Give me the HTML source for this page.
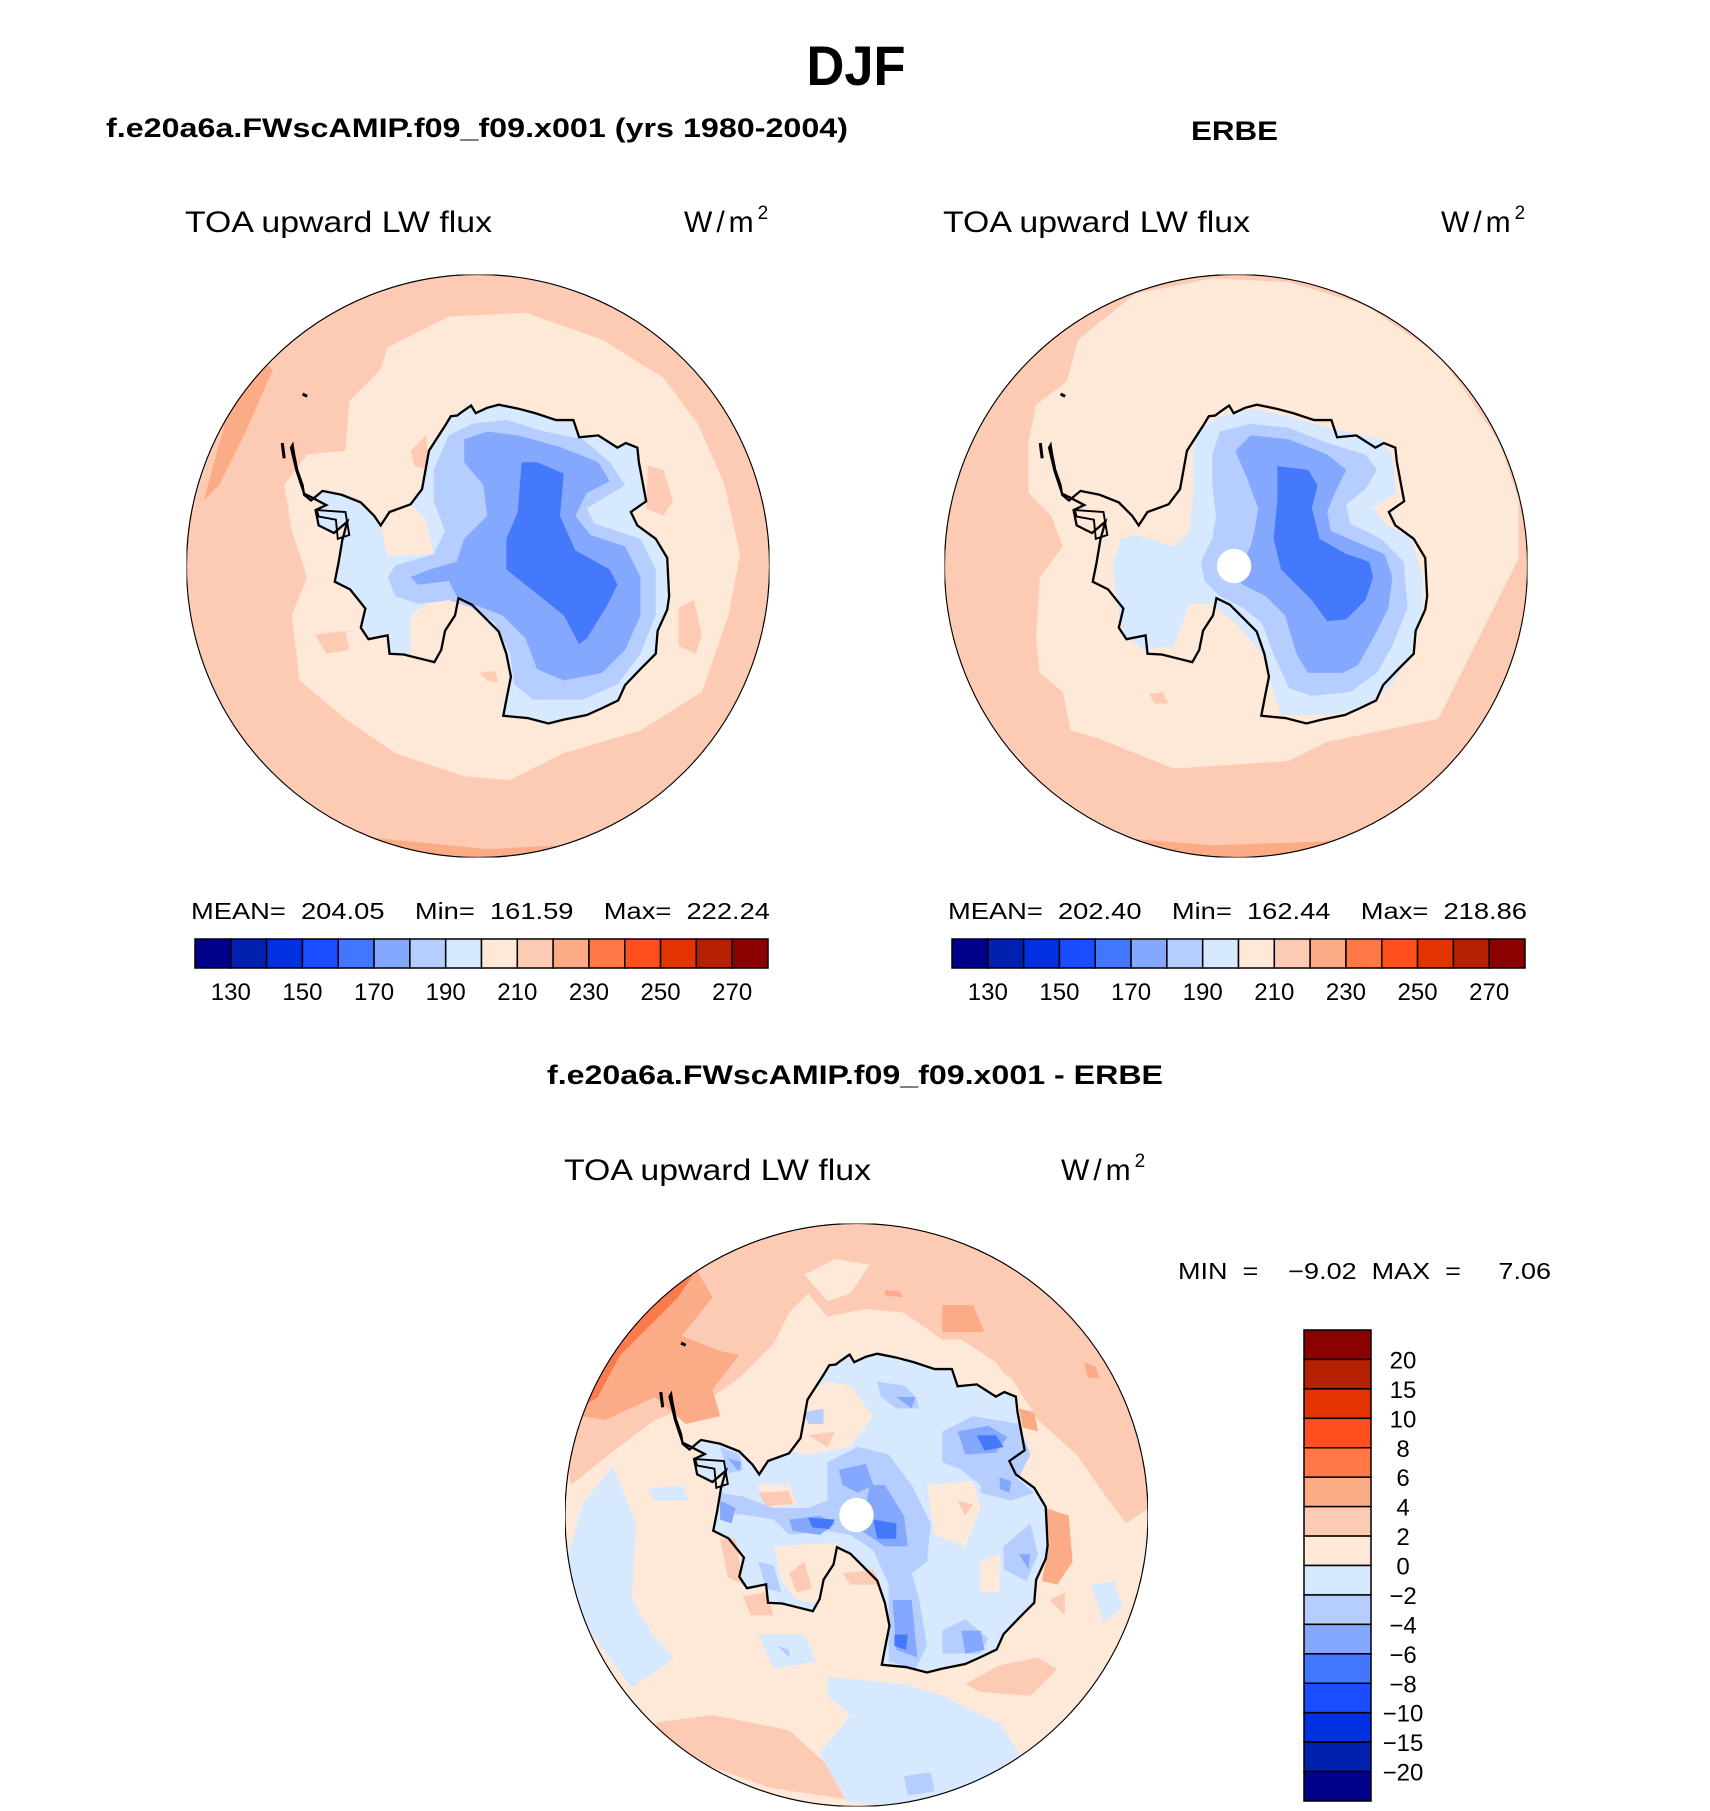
<!DOCTYPE html>
<html><head><meta charset="utf-8"><title>DJF TOA upward LW flux</title>
<style>html,body{margin:0;padding:0;background:#fff}svg{display:block}
.t{font-family:"Liberation Sans",sans-serif;fill:#000}
.b{font-weight:bold}
.u{letter-spacing:4px}</style></head>
<body>
<svg id="fig" width="1710" height="1811" viewBox="0 0 1710 1811" xmlns="http://www.w3.org/2000/svg">
<defs>
<clipPath id="cc"><circle cx="776" cy="771" r="761"/></clipPath>
<path id="coast" d="M292,455 L296,480 L304,520 L318,560 L322,585 L340,600 L370,575 L420,585 L470,605 L505,640 L522,665 L545,630 L600,610 L630,570 L648,470 L690,405 L705,380 L722,378 L735,368 L758,352 L770,372 L800,358 L830,350 L880,360 L925,372 L980,390 L1025,390 L1040,435 L1090,430 L1140,462 L1162,450 L1192,462 L1196,500 L1215,602 L1175,630 L1192,665 L1240,700 L1270,750 L1275,850 L1270,885 L1245,940 L1240,1000 L1200,1040 L1160,1082 L1142,1122 L1100,1142 L1060,1160 L1000,1172 L960,1182 L905,1168 L842,1162 L852,1110 L862,1060 L850,1000 L830,942 L790,902 L760,872 L725,855 L716,900 L690,940 L680,990 L662,1022 L622,1012 L582,1002 L545,1000 L540,952 L490,962 L470,932 L482,882 L442,832 L402,812 L412,762 L422,702 L435,655 L400,685 L360,665 L352,625 L380,612 L342,592 L322,582 L302,522 L288,462 Z"/>
</defs>
<rect width="1710" height="1811" fill="#fff"/>

<text class="t b" x="856" y="85" font-size="56" text-anchor="middle" textLength="99" lengthAdjust="spacingAndGlyphs">DJF</text>
<text class="t b" x="106" y="137" font-size="27" textLength="742" lengthAdjust="spacingAndGlyphs">f.e20a6a.FWscAMIP.f09_f09.x001 (yrs 1980-2004)</text>
<text class="t b" x="1191" y="140" font-size="27" textLength="87" lengthAdjust="spacingAndGlyphs">ERBE</text>
<text class="t b" x="547" y="1084" font-size="27" textLength="616" lengthAdjust="spacingAndGlyphs">f.e20a6a.FWscAMIP.f09_f09.x001 - ERBE</text>

<text class="t" x="185" y="232" font-size="30" textLength="307" lengthAdjust="spacingAndGlyphs">TOA upward LW flux</text>
<text class="t u" x="684" y="232" font-size="30">W/m<tspan font-size="19" dy="-13">2</tspan></text>
<text class="t" x="943" y="232" font-size="30" textLength="307" lengthAdjust="spacingAndGlyphs">TOA upward LW flux</text>
<text class="t u" x="1441" y="232" font-size="30">W/m<tspan font-size="19" dy="-13">2</tspan></text>
<text class="t" x="564" y="1180" font-size="30" textLength="307" lengthAdjust="spacingAndGlyphs">TOA upward LW flux</text>
<text class="t u" x="1061" y="1180" font-size="30">W/m<tspan font-size="19" dy="-13">2</tspan></text>

<!-- MAP 1 -->
<svg x="186.5" y="274.5" width="583" height="583" viewBox="15 10 1522 1522">
<g clip-path="url(#cc)">
<rect x="0" y="0" width="1600" height="1600" fill="#fdcbb3"/>
<path fill="#fcab87" d="M60,600 L120,380 L220,240 L240,260 L170,420 L100,560 Z"/>
<path fill="#fcab87" d="M300,1400 L500,1480 L800,1510 L1000,1500 L1150,1460 L1100,1560 L300,1560 Z"/>
<path fill="#fee8d8" d="M540,200 L700,120 L900,110 L1100,180 L1260,280 L1350,400 L1420,560 L1460,740 L1430,900 L1360,1100 L1200,1200 L1100,1230 L1000,1260 L860,1330 L740,1320 L560,1260 L430,1170 L310,1070 L290,900 L330,800 L290,680 L270,560 L330,480 L430,470 L440,340 L520,260 Z"/>
<path fill="#fdcbb3" d="M1220,510 L1260,520 L1285,600 L1260,640 L1215,620 Z M1300,880 L1340,860 L1360,950 L1345,1000 L1300,980 Z M600,470 L640,430 L650,520 L610,510 Z M350,950 L430,940 L440,990 L380,1000 Z M780,1050 L820,1045 L830,1075 L800,1070 Z"/>
<use href="#coast" fill="#d6e9ff"/>
<path fill="#fee8d8" d="M725,855 L716,900 L690,940 L680,990 L662,1022 L600,1010 L600,900 L640,870 Z M522,665 L545,630 L600,610 L640,650 L660,740 L540,745 Z"/>
<path fill="#b5cdff" d="M660,520 L700,430 L760,400 L850,390 L950,420 L1050,440 L1120,500 L1160,560 L1110,590 L1060,620 L1080,660 L1200,700 L1240,780 L1240,900 L1200,1000 L1140,1080 L1050,1120 L920,1120 L870,1080 L860,1000 L820,920 L760,880 L700,860 L620,870 L560,850 L540,800 L560,770 L660,740 L690,680 L660,600 Z"/>
<path fill="#85a8ff" d="M740,440 L800,420 L880,430 L990,460 L1090,500 L1120,550 L1060,580 L1030,640 L1070,690 L1160,720 L1200,800 L1200,900 L1160,990 L1100,1050 L1000,1070 L930,1040 L900,960 L840,900 L760,870 L720,850 L700,810 L620,820 L600,800 L650,780 L720,760 L740,700 L800,640 L790,560 L740,500 Z"/>
<path fill="#4479fb" d="M890,500 L930,500 L1000,530 L990,640 L1030,730 L1120,780 L1140,820 L1110,880 L1060,960 L1040,975 L1000,900 L850,780 L850,700 L880,630 Z"/>
</g>
<use href="#coast" fill="none" stroke="#000" stroke-width="6"/>
<path d="M355,625 L430,630 L440,690 L410,700 L405,650 L360,642 Z" fill="none" stroke="#000" stroke-width="5"/>
<path d="M265,450 L270,490 M318,322 L330,328" stroke="#000" stroke-width="8"/>
<circle cx="776" cy="771" r="761" fill="none" stroke="#000" stroke-width="3"/>
</svg>

<!-- MAP 2 -->
<svg x="944.5" y="274.5" width="583" height="583" viewBox="15 10 1522 1522">
<g clip-path="url(#cc)">
<rect x="0" y="0" width="1600" height="1600" fill="#fdcbb3"/>
<g transform="translate(14,0)">
<path fill="#fcab87" d="M450,1480 L700,1500 L1000,1490 L1100,1470 L1150,1560 L400,1560 Z"/>
<path fill="#fee8d8" d="M350,180 L500,60 L700,20 L900,30 L1100,90 L1290,220 L1350,300 L1450,450 L1500,600 L1500,750 L1450,850 L1400,950 L1350,1050 L1290,1170 L1100,1210 L1000,1230 L900,1280 L750,1290 L600,1300 L500,1260 L400,1220 L330,1200 L310,1100 L250,1050 L240,960 L250,800 L310,720 L280,640 L220,580 L220,450 L240,350 L320,290 Z"/>
<path fill="#fdcbb3" d="M535,1105 L570,1100 L585,1130 L550,1130 Z"/>
<path fill="#d6e9ff" d="M660,420 L720,380 L800,360 L900,380 L1000,410 L1140,440 L1170,480 L1180,580 L1120,620 L1150,660 L1220,700 L1250,800 L1250,900 L1220,1000 L1170,1080 L1100,1140 L1000,1160 L880,1160 L860,1100 L830,1000 L760,920 L700,870 L640,870 L600,980 L520,990 L470,950 L450,860 L440,770 L460,700 L500,690 L600,720 L640,680 L650,580 L650,480 Z"/>
<path fill="#b5cdff" d="M700,480 L720,420 L800,400 L900,410 L1000,450 L1100,480 L1130,520 L1100,570 L1050,610 L1060,660 L1140,700 L1200,760 L1210,880 L1170,980 L1130,1050 L1060,1100 L960,1110 L900,1090 L860,1000 L830,920 L780,880 L720,850 L680,810 L670,760 L700,700 L710,640 L700,560 Z"/>
<path fill="#85a8ff" d="M760,470 L800,430 L900,440 L1000,480 L1050,520 L1020,580 L1000,630 L1010,680 L1080,710 L1150,740 L1170,800 L1160,880 L1120,960 L1080,1030 L1040,1050 L950,1050 L920,1000 L890,900 L840,850 L780,820 L760,800 L800,720 L810,680 L820,620 L790,540 Z"/>
<path fill="#4479fb" d="M870,510 L950,520 L975,560 L960,620 L980,700 L1050,740 L1110,760 L1120,800 L1100,860 L1050,910 L1000,915 L960,860 L880,780 L860,700 L870,600 Z"/>
</g>
<circle cx="771" cy="771" r="45" fill="#fff"/>
</g>
<use href="#coast" fill="none" stroke="#000" stroke-width="6"/>
<path d="M355,625 L430,630 L440,690 L410,700 L405,650 L360,642 Z" fill="none" stroke="#000" stroke-width="5"/>
<path d="M265,450 L270,490 M318,322 L330,328" stroke="#000" stroke-width="8"/>
<circle cx="776" cy="771" r="761" fill="none" stroke="#000" stroke-width="3"/>
</svg>

<!-- MAP 3 -->
<svg x="565" y="1223.5" width="583" height="583" viewBox="15 10 1522 1522">
<g clip-path="url(#cc)">
<rect x="0" y="0" width="1600" height="1600" fill="#fee8d8"/>
<g transform="translate(0,-7)">
<path fill="#fdcbb3" d="M20,640 L100,350 L250,180 L450,70 L700,20 L900,20 L1100,80 L1300,200 L1450,400 L1530,600 L1540,760 L1480,800 L1420,720 L1350,620 L1250,530 L1180,420 L1000,320 L900,250 L800,240 L700,260 L650,200 L600,250 L560,330 L470,420 L400,470 L250,530 L130,620 L30,700 Z"/>
<path fill="#fee8d8" d="M640,150 L720,110 L810,125 L760,200 L700,220 Z M930,320 L1050,320 L1140,380 L1200,460 L1100,440 L1000,420 L950,380 Z"/>
<path fill="#fcab87" d="M60,520 L120,340 L250,200 L360,140 L400,210 L320,310 L420,350 L470,360 L400,450 L420,520 L330,540 L250,470 L120,530 Z M1000,230 L1080,230 L1110,300 L1000,300 Z M850,190 L890,195 L895,210 L850,205 Z M1370,380 L1400,390 L1410,420 L1380,420 Z M1270,760 L1330,780 L1340,900 L1300,960 L1260,950 L1280,850 Z M1200,500 L1240,510 L1250,560 L1210,550 Z"/>
<path fill="#fd7a4e" d="M70,490 L130,350 L200,260 L300,180 L350,150 L310,210 L160,360 L100,470 Z"/>
<path fill="#fdcbb3" d="M250,1320 L400,1300 L600,1340 L700,1430 L750,1520 L550,1490 L380,1430 L270,1380 Z M1060,1220 L1150,1170 L1250,1150 L1300,1180 L1230,1250 L1100,1240 Z M1280,1000 L1320,980 L1320,1040 Z"/>
<path fill="#d6e9ff" d="M20,900 L60,750 L140,650 L200,800 L190,1000 L250,1100 L300,1150 L190,1230 L130,1150 L60,1050 Z M700,1200 L900,1220 L1000,1250 L1060,1280 L1150,1320 L1200,1400 L1250,1460 L1100,1500 L900,1545 L750,1525 L680,1400 L760,1300 L700,1250 Z M230,710 L320,700 L340,740 L250,740 Z M1390,960 L1450,950 L1470,1020 L1420,1060 Z M520,1090 L640,1090 L670,1160 L560,1180 Z"/>
<path fill="#b5cdff" d="M900,1460 L970,1450 L980,1500 L910,1510 Z"/>
<use href="#coast" fill="#d6e9ff" transform="translate(0,7)"/>
<path fill="#fee8d8" d="M630,470 L700,430 L760,440 L820,520 L760,600 L650,620 L560,600 L620,540 Z M560,860 L720,850 L760,880 L840,950 L850,1060 L780,1010 L700,1010 L620,1000 L580,950 Z M960,700 L1080,690 L1100,760 L1060,860 L980,830 Z M1100,900 L1150,880 L1150,980 L1100,980 Z M520,700 L600,700 L620,750 L540,760 Z"/>
<path fill="#fdcbb3" d="M520,720 L600,715 L610,750 L540,755 Z M650,570 L720,560 L700,600 Z M600,930 L640,900 L660,970 L620,980 Z M740,930 L820,920 L840,960 L760,960 Z M1040,740 L1080,750 L1060,780 Z M420,840 L460,840 L480,960 L440,940 Z M480,990 L540,980 L560,1040 L500,1040 Z"/>
<path fill="#b5cdff" d="M700,640 L780,600 L860,620 L920,700 L970,800 L960,900 L920,930 L940,1000 L960,1120 L930,1180 L860,1160 L860,1050 L860,960 L820,870 L760,830 L700,820 L600,830 L560,790 L500,780 L420,770 L420,720 L480,730 L560,760 L650,760 L700,740 L700,690 Z M1000,560 L1080,520 L1200,540 L1230,620 L1200,680 L1100,700 L1050,660 L1000,640 Z M1100,680 L1180,670 L1240,720 L1180,740 L1100,720 Z M1160,860 L1230,800 L1250,880 L1220,950 L1160,920 Z M1000,1080 L1060,1050 L1120,1100 L1100,1140 L1000,1140 Z M830,430 L900,440 L930,470 L940,500 L880,500 L840,470 Z M640,510 L690,500 L690,540 L650,540 Z M420,600 L470,620 L480,660 L440,670 Z M520,900 L560,910 L580,980 L540,970 Z M570,1120 L600,1130 L600,1150 Z"/>
<path fill="#85a8ff" d="M730,660 L800,645 L820,700 L780,720 L740,700 Z M810,700 L850,700 L900,780 L910,860 L850,860 L790,820 L800,760 Z M600,790 L680,780 L720,800 L680,830 L610,820 Z M1040,560 L1120,545 L1170,575 L1140,615 L1060,620 Z M1050,1080 L1100,1080 L1110,1130 L1060,1140 Z M870,1000 L920,1000 L935,1150 L880,1130 Z M1150,680 L1180,690 L1175,720 L1150,710 Z M1200,880 L1230,880 L1225,920 Z M880,470 L930,470 L920,500 Z M440,630 L475,640 L470,665 Z M420,740 L460,760 L450,800 L420,790 Z"/>
<path fill="#4479fb" d="M1090,570 L1140,570 L1160,600 L1110,610 Z M820,790 L880,800 L880,840 L830,840 Z M650,785 L720,790 L705,815 L660,810 Z M875,1090 L910,1090 L905,1130 L875,1120 Z"/>
<circle cx="776" cy="778" r="45" fill="#fff"/>
</g>
</g>
<use href="#coast" fill="none" stroke="#000" stroke-width="6"/>
<path d="M355,625 L430,630 L440,690 L410,700 L405,650 L360,642 Z" fill="none" stroke="#000" stroke-width="5"/>
<path d="M265,450 L270,490 M318,322 L330,328" stroke="#000" stroke-width="8"/>
<circle cx="776" cy="771" r="761" fill="none" stroke="#000" stroke-width="3"/>
</svg>

<text class="t" x="191" y="919" font-size="23" textLength="579" lengthAdjust="spacingAndGlyphs" xml:space="preserve">MEAN=  204.05    Min=  161.59    Max=  222.24</text>
<text class="t" x="948" y="919" font-size="23" textLength="579" lengthAdjust="spacingAndGlyphs" xml:space="preserve">MEAN=  202.40    Min=  162.44    Max=  218.86</text>
<text class="t" x="1178" y="1279" font-size="23" textLength="373" lengthAdjust="spacingAndGlyphs" xml:space="preserve">MIN  =    −9.02  MAX  =     7.06</text>
<g id="cbars"></g>
</svg>
<script>
const absColors = ["#00008b","#0020b0","#0031e0","#1a4dff","#4276ff","#85a8ff","#b5cdff","#d6e9ff","#fee8d8","#fdcbb3","#fcab87","#ff7845","#ff4f1e","#e33300","#b52000","#8b0000"];
const absTicks = [130,150,170,190,210,230,250,270];
const diffColors = ["#8b0000","#b52000","#e33300","#ff4f1e","#ff7845","#fcab87","#fdcbb3","#fee8d8","#d6e9ff","#b5cdff","#85a8ff","#4276ff","#1a4dff","#0031e0","#0020b0","#00008b"];
const diffTicks = ["20","15","10","8","6","4","2","0","−2","−4","−6","−8","−10","−15","−20"];
const NS = "http://www.w3.org/2000/svg";
const host = document.getElementById("cbars");
function hbar(x0, w, y0, h) {
  const bw = w / absColors.length;
  absColors.forEach((c, i) => {
    const r = document.createElementNS(NS, "rect");
    r.setAttribute("x", x0 + i * bw); r.setAttribute("y", y0);
    r.setAttribute("width", bw); r.setAttribute("height", h);
    r.setAttribute("fill", c); r.setAttribute("stroke", "#000"); r.setAttribute("stroke-width", "1.5");
    
    
    host.appendChild(r);
  });
  absTicks.forEach((v, k) => {
    const t = document.createElementNS(NS, "text");
    t.setAttribute("x", x0 + (2 * k + 1) * bw); t.setAttribute("y", y0 + h + 32);
    t.setAttribute("class", "t"); t.setAttribute("font-size", "24"); t.setAttribute("text-anchor", "middle");
    t.textContent = v;
    
    
    host.appendChild(t);
  });
}
hbar(195, 573, 939, 29);
hbar(952, 573, 939, 29);
(function vbar() {
  const x0 = 1304, w = 67, y0 = 1330, H = 471, bh = H / diffColors.length;
  diffColors.forEach((c, i) => {
    const r = document.createElementNS(NS, "rect");
    r.setAttribute("x", x0); r.setAttribute("y", y0 + i * bh);
    r.setAttribute("width", w); r.setAttribute("height", bh);
    r.setAttribute("fill", c); r.setAttribute("stroke", "#000"); r.setAttribute("stroke-width", "1.5");
    
    
    host.appendChild(r);
  });
  diffTicks.forEach((v, k) => {
    const t = document.createElementNS(NS, "text");
    t.setAttribute("x", 1403); t.setAttribute("y", y0 + (k + 1) * bh + 9);
    t.setAttribute("class", "t"); t.setAttribute("font-size", "24"); t.setAttribute("text-anchor", "middle");
    t.textContent = v;
    
    
    host.appendChild(t);
  });
})();
</script>
</body></html>
